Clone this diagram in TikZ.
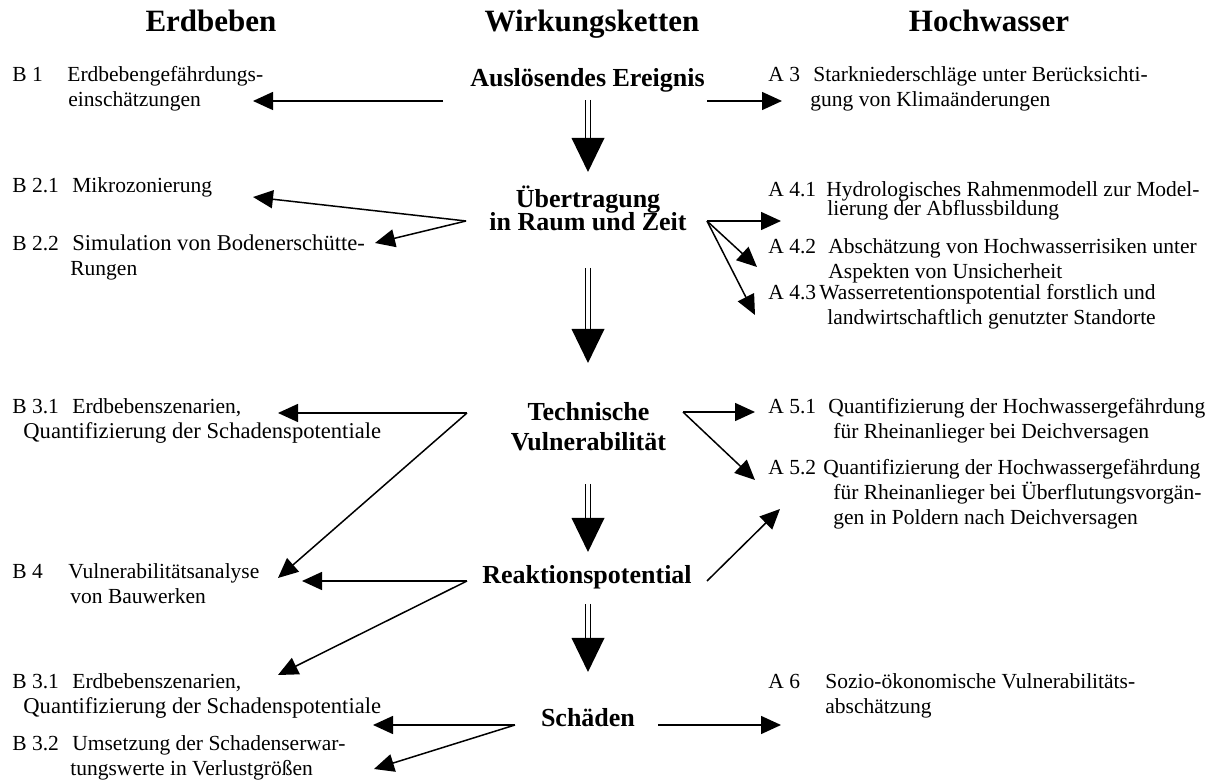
\documentclass[tikz,border=0pt]{standalone}
\usepackage{fontspec}
\setmainfont{Liberation Serif}
\usetikzlibrary{arrows.meta, decorations.markings}
\newcommand{\nr}[2][30pt]{\makebox[#1][l]{#2}}
\newcommand{\wideline}[1]{{\fontsize{11.3pt}{12.5pt}\selectfont #1}}

\begin{document}
\begin{tikzpicture}[x=0.5pt, y=-0.5pt,
  head/.style={font=\fontsize{15.5pt}{18pt}\selectfont\bfseries, anchor=base, inner sep=0pt},
  stage/.style={font=\fontsize{13pt}{15pt}\selectfont\bfseries, align=center, anchor=base, inner sep=0pt},
  item/.style={font=\fontsize{10.75pt}{12.5pt}\selectfont, align=left, anchor=base west, inner sep=0pt},
  link/.style={line width=0.75pt, -{Triangle[length=10pt, width=9pt]}},
  flow/.style={double, double distance=2pt, line width=0.5pt, shorten >=16pt,
    postaction={decorate, decoration={markings, mark=at position 1 with {\fill (0pt,0pt) -- (-17pt,8.25pt) -- (-17pt,-8.25pt) -- cycle;}}}}]
\useasboundingbox (0,0) rectangle (1212,780);

% column heads
\node[head] (erd) at (211,32) {Erdbeben};
\node[head] (wirk) at (592,32) {Wirkungsketten};
\node[head] (hoch) at (989,32) {Hochwasser};

% chain of effects (base = last line)
\node[stage] (ausl) at (587.5,87) {Auslösendes Ereignis};
\node[stage] (uebertr) at (588,231) {Übertragung\\[-3.5pt]in Raum und Zeit};
\node[stage] (tech) at (588.5,451) {Technische\\Vulnerabilität};
\node[stage] (reakt) at (587,584) {Reaktionspotential};
\node[stage] (schaeden) at (588,727) {Schäden};

% earthquake projects
\node[item] (b1) at (12,107) {\nr[27.5pt]{B 1}Erdbebengefährdungs-\\\hspace*{28pt}einschätzungen};
\node[item] (b21) at (12,193) {\nr{B 2.1}Mikrozonierung};
\node[item] (b22) at (12,276) {\nr{B 2.2}\wideline{Simulation von Bodenerschütte-}\\\hspace*{29pt}Rungen};
\node[item] (b31) at (12,439) {\nr{B 3.1}Erdbebenszenarien,\\\hspace*{5.5pt}\wideline{Quantifizierung der Schadenspotentiale}};
\node[item] (b4) at (12,604) {\nr[28pt]{B 4}Vulnerabilitätsanalyse\\\hspace*{29pt}von Bauwerken};
\node[item] (b31b) at (12,714) {\nr{B 3.1}Erdbebenszenarien,\\\hspace*{5.5pt}\wideline{Quantifizierung der Schadenspotentiale}};
\node[item] (b32) at (12,776) {\nr{B 3.2}Umsetzung der Schadenserwar-\\\hspace*{29pt}tungswerte in Verlustgrößen};

% flood projects
\node[item] (a3) at (768,107) {\nr[22.5pt]{A 3}Starkniederschläge unter Berücksichti-\\\hspace*{21pt}gung von Klimaänderungen};
\node[item] (a41) at (768,216) {\nr[29pt]{A 4.1}Hydrologisches Rahmenmodell zur Model-\\[-3pt]\hspace*{29.5pt}lierung der Abflussbildung};
\node[item] (a42) at (768,279) {\nr{A 4.2}Abschätzung von Hochwasserrisiken unter\\\hspace*{30pt}Aspekten von Unsicherheit};
\node[item] (a43) at (768,325) {\nr[25.5pt]{A 4.3}Wasserretentionspotential forstlich und\\\hspace*{29.5pt}landwirtschaftlich genutzter Standorte};
\node[item] (a51) at (768,439) {\nr{A 5.1}Quantifizierung der Hochwassergefährdung\\\hspace*{32.5pt}für Rheinanlieger bei Deichversagen};
\node[item] (a52) at (768,525) {\nr[27.5pt]{A 5.2}Quantifizierung der Hochwassergefährdung\\\hspace*{32.5pt}für Rheinanlieger bei Überflutungsvorgän-\\\hspace*{32.5pt}gen in Poldern nach Deichversagen};
\node[item] (a6) at (768,714) {\nr[28.5pt]{A 6}Sozio-ökonomische Vulnerabilitäts-\\\hspace*{28.5pt}abschätzung};

% branch points and arrow ends
\coordinate (ausl-w) at (443,101);  \coordinate (ausl-e) at (707,101);
\coordinate (uebertr-w) at (466,221); \coordinate (uebertr-e) at (707,221);
\coordinate (tech-w) at (467,413);  \coordinate (tech-e) at (683,412);
\coordinate (reakt-w) at (467,581); \coordinate (reakt-e) at (707,581);
\coordinate (schaeden-w) at (515,725); \coordinate (schaeden-e) at (658,725);
\coordinate (b1-in) at (253,101);
\coordinate (b21-in) at (253,197);
\coordinate (b22-in) at (375,243);
\coordinate (b31-in) at (278,413);
\coordinate (b4-in) at (278,578);
\coordinate (b4-in2) at (302,581);
\coordinate (b31b-in) at (278,675);
\coordinate (b31b-in2) at (373,725);
\coordinate (b32-in) at (374,769);
\coordinate (a3-in) at (782,101);
\coordinate (a41-in) at (781,221);
\coordinate (a42-in) at (757,267);
\coordinate (a43-in) at (755,315);
\coordinate (a51-in) at (755,412);
\coordinate (a52-in) at (755,480);
\coordinate (a52-in2) at (780,509);
\coordinate (a6-in) at (781,725);

% vertical flow
\coordinate (f1a) at (588,100); \coordinate (f1b) at (588,172);
\coordinate (f2a) at (588,268); \coordinate (f2b) at (588,363);
\coordinate (f3a) at (588,484); \coordinate (f3b) at (588,552);
\coordinate (f4a) at (588,604); \coordinate (f4b) at (588,672);
\draw[flow] (f1a) -- (f1b);
\draw[flow] (f2a) -- (f2b);
\draw[flow] (f3a) -- (f3b);
\draw[flow] (f4a) -- (f4b);

% links to the projects
\draw[link] (ausl-w) -- (b1-in);
\draw[link] (ausl-e) -- (a3-in);
\draw[link] (uebertr-w) -- (b21-in);
\draw[link] (uebertr-w) -- (b22-in);
\draw[link] (uebertr-e) -- (a41-in);
\draw[link] (uebertr-e) -- (a42-in);
\draw[link] (uebertr-e) -- (a43-in);
\draw[link] (tech-w) -- (b31-in);
\draw[link] (tech-w) -- (b4-in);
\draw[link] (tech-e) -- (a51-in);
\draw[link] (tech-e) -- (a52-in);
\draw[link] (reakt-w) -- (b4-in2);
\draw[link] (reakt-w) -- (b31b-in);
\draw[link] (reakt-e) -- (a52-in2);
\draw[link] (schaeden-w) -- (b31b-in2);
\draw[link] (schaeden-w) -- (b32-in);
\draw[link] (schaeden-e) -- (a6-in);
\end{tikzpicture}
\end{document}
